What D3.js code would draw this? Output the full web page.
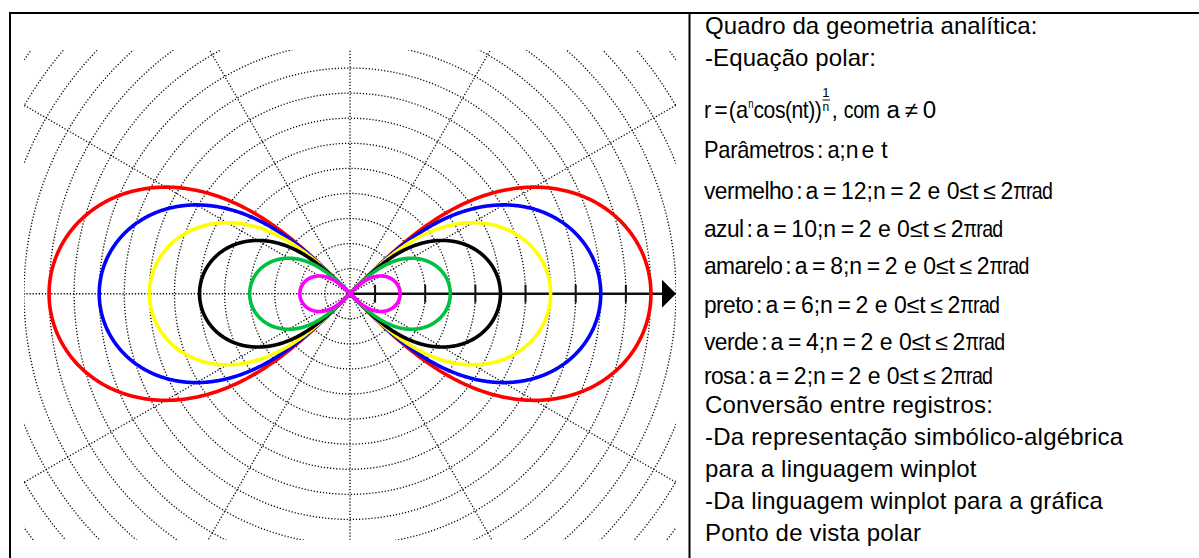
<!DOCTYPE html>
<html><head><meta charset="utf-8">
<script src="https://cdn.jsdelivr.net/npm/d3@7"></script>
<style>body{margin:0;background:#fff}svg{display:block}</style>
</head><body>
<svg id="c" width="1199" height="558"></svg>
<script>
// ---------- data ----------
const seriesNames  = ["vermelho","azul","amarelo","preto","verde","rosa"];
const seriesA      = [12,10,8,6,4,2];
const seriesN      = [2,2,2,2,2,2];
const seriesColors = ["#ff0000","#0000ff","#ffff00","#000000","#00c040","#ff00ff"];
const axisTicks    = [1,3,5,7,9,11];
const gridRadii    = d3.range(1, 21);
const gridAngles   = d3.range(0, 360, 30);
const textTop      = ["Quadro da geometria analítica:", "-Equação polar:"];
const paramText    = "Parâmetros";
const paramList    = ["a;", "n", "e", "t"];
const textBottom   = ["Conversão entre registros:", "-Da representação simbólico-algébrica",
                      "para a linguagem winplot", "-Da linguagem winplot para a gráfica", "Ponto de vista polar"];

// ---------- layout ----------
const W = 1199, H = 558;
const svg = d3.select("#c");
const plot = {x0: 24, x1: 676, y0: 50, y1: 540};
const x = d3.scaleLinear().domain([-13, 13]).range([plot.x0, plot.x1]);
const y = d3.scaleLinear().domain([-9.8, 9.7]).range([plot.y1, plot.y0]);

svg.append("rect").attr("width", W).attr("height", H).attr("fill", "#fff");

svg.append("clipPath").attr("id", "clip").append("rect")
  .attr("x", plot.x0).attr("y", plot.y0).attr("width", plot.x1 - plot.x0).attr("height", plot.y1 - plot.y0);

const g = svg.append("g").attr("clip-path", "url(#clip)");
const grid = g.append("g");
// grid circles
grid.selectAll("circle").data(gridRadii).join("circle")
  .attr("cx", x(0)).attr("cy", y(0)).attr("r", d => x(d) - x(0))
  .attr("fill", "none").attr("stroke", "#000").attr("stroke-width", 1.3).attr("stroke-dasharray", "1.2 1.9");
// radial lines
grid.selectAll("line").data(gridAngles).join("line")
  .attr("x1", x(0)).attr("y1", y(0))
  .attr("x2", d => x(30 * Math.cos(d * Math.PI / 180)))
  .attr("y2", d => y(30 * Math.sin(d * Math.PI / 180)))
  .attr("stroke", "#000").attr("stroke-width", 1.3).attr("stroke-dasharray", "1.2 1.9");

// axis (positive x)
g.append("line").attr("x1", x(0)).attr("x2", x(12.45)).attr("y1", y(0)).attr("y2", y(0))
  .attr("stroke", "#111").attr("stroke-width", 2.5);
g.selectAll("line.tick").data(axisTicks).join("line").attr("class", "tick")
  .attr("x1", d => x(d)).attr("x2", d => x(d))
  .attr("y1", y(0) - 9).attr("y2", y(0) + 9)
  .attr("stroke", "#111").attr("stroke-width", 2);
g.append("path")
  .attr("d", `M${x(13)},${y(0)} L${x(13) - 14},${y(0) - 14} L${x(13) - 14},${y(0) + 14} Z`)
  .attr("fill", "#000");

// curves r = (a^n cos(n t))^(1/n)
const steps = 2000;
const ts = d3.range(steps + 1).map(i => i * 2 * Math.PI / steps);
const line = d3.line()
  .defined(d => d.v > -1e-9)
  .x(d => x(d.r * Math.cos(d.t)))
  .y(d => y(d.r * Math.sin(d.t)));
seriesA.forEach((a, i) => {
  const n = seriesN[i];
  const pts = ts.map(t => {
    const v = Math.pow(a, n) * Math.cos(n * t);
    return {t, v, r: Math.pow(Math.max(0, v), 1 / n)};
  });
  g.append("path").datum(pts).attr("d", line)
    .attr("fill", "none").attr("stroke", seriesColors[i]).attr("stroke-width", 3.6)
    .attr("stroke-linejoin", "round");
});

// table borders
const bc = "#000";
svg.append("line").attr("x1", 9).attr("x2", W).attr("y1", 13).attr("y2", 13).attr("stroke", bc).attr("stroke-width", 2);
svg.append("line").attr("x1", 10).attr("x2", 10).attr("y1", 12).attr("y2", H).attr("stroke", bc).attr("stroke-width", 2);
svg.append("line").attr("x1", 689.5).attr("x2", 689.5).attr("y1", 12).attr("y2", H).attr("stroke", bc).attr("stroke-width", 2);

// ---------- text ----------
const TX = 705;
const font = "'Liberation Sans', Arial, Helvetica, sans-serif";
const big = 24;
const t = svg.append("g").attr("font-family", font).attr("fill", "#000");

textTop.forEach((s, i) => t.append("text").attr("x", TX).attr("y", 34 + 32 * i)
  .attr("font-size", big).attr("letter-spacing", 0.1).text(s));
textBottom.forEach((s, i) => t.append("text").attr("x", TX).attr("y", 413 + 32 * i)
  .attr("font-size", big).attr("letter-spacing", 0.2).text(s));

// segment writer: [text, fontSize, scaleX, dy, gapAfter, letterSpacing]
function segs(x0, baseY, list) {
  let cx = x0;
  list.forEach(([s, fs, sx, dy, gap, ls]) => {
    const gg = t.append("g").attr("transform", `translate(${cx},${baseY + (dy || 0)}) scale(${sx},1)`);
    const el = gg.append("text").attr("font-size", fs).attr("xml:space", "preserve")
      .attr("letter-spacing", ls || 0).text(s);
    cx += el.node().getComputedTextLength() * sx + (gap || 0);
  });
  return cx;
}

// equation
const eqY = 118, fs = 23;
let ex = segs(TX - 1, eqY, [["r", fs, 0.95, 0, 3], ["=", fs, 1, 0, 1], ["(a", fs, 0.95, 0, 0], ["n", 12, 0.8, -10, 0],
  ["cos(nt))", fs, 0.92, 0, 0, -0.5]]);
// superscript fraction 1/n
t.append("text").attr("x", ex + 4.5).attr("y", eqY - 21).attr("font-size", 13).attr("text-anchor", "middle").text("1");
t.append("line").attr("x1", ex + 1).attr("x2", ex + 8.5).attr("y1", eqY - 18).attr("y2", eqY - 18).attr("stroke", "#000").attr("stroke-width", 1);
t.append("text").attr("x", ex + 4.5).attr("y", eqY - 7).attr("font-size", 12).attr("text-anchor", "middle").text("n");
segs(ex + 10, eqY, [[",", fs, 1, 0, 6], ["com", fs, 0.85, 0, 7, -0.5], ["a\u2009\u2260\u20090", fs, 1.05, 0, 0]]);

segs(TX - 1, 158, [[paramText, fs, 0.95, 0, 3, -0.3], [":", fs, 1, 0, 4], [paramList[0], fs, 0.95, 0, 0],
  [paramList[1], fs, 1, 0, 3], [paramList[2], fs, 1, 0, 7], [paramList[3], fs, 1, 0, 0]]);

const eqLineY = [199, 237, 274, 313, 350, 384];
seriesNames.forEach((nm, i) => {
  segs(TX - 1, eqLineY[i], [
    [nm, 24, 0.95, 0, 3, -0.6], [":", fs, 1, 0, 3],
    [`a\u2009=\u2009${seriesA[i]};n\u2009=\u2009${seriesN[i]} e 0\u2264t\u2009\u2264\u20092`, fs, 1, 0, 0],
    ["\u03c0rad", fs, 0.85, 0, 0, -0.8]
  ]);
});
</script>
</body></html>
